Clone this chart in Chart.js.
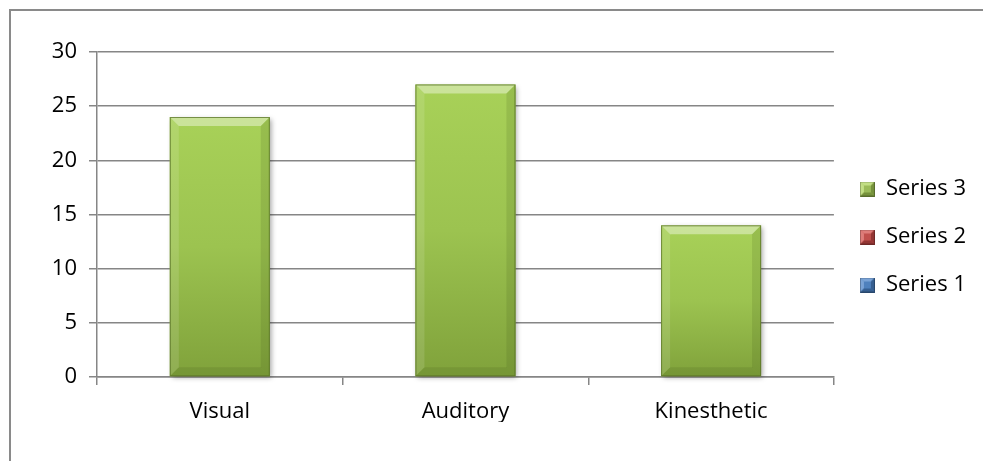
<!DOCTYPE html>
<html><head><meta charset="utf-8">
<script src="https://cdn.jsdelivr.net/npm/chart.js@4/dist/chart.umd.min.js"></script>
<style>html,body{margin:0;padding:0;background:#fff;overflow:hidden}</style>
</head><body>
<canvas id="c" width="983" height="461"></canvas>
<script>
const categories = ['Visual', 'Auditory', 'Kinesthetic'];
const series1 = [0, 0, 0];
const series2 = [0, 0, 0];
const series3 = [24, 27, 14];
const seriesNames = ['Series 1', 'Series 2', 'Series 3'];
const yMin = 0, yMax = 30, yStep = 5;

const FONT = 'Open Sans';
const GRID = '#868686';

function swatch(light, mid, dark) {
  const n = 15;
  const c = document.createElement('canvas');
  c.width = n; c.height = n;
  const x = c.getContext('2d');
  x.fillStyle = mid; x.fillRect(0, 0, n, n);
  const s = 4;
  const poly = (pts, col) => { x.beginPath(); x.moveTo(pts[0][0], pts[0][1]); pts.slice(1).forEach(p => x.lineTo(p[0], p[1])); x.closePath(); x.fillStyle = col; x.fill(); };
  poly([[0,0],[n,0],[n-s,s],[s,s]], light);
  poly([[0,0],[s,s],[s,n-s],[0,n]], light);
  poly([[0,n],[n,n],[n-s,n-s],[s,n-s]], dark);
  poly([[n,0],[n,n],[n-s,n-s],[n-s,s]], dark);
  x.strokeStyle = 'rgba(0,0,0,0.25)'; x.lineWidth = 1; x.strokeRect(0.5, 0.5, n - 1, n - 1);
  return c;
}

const borderPlugin = {
  id: 'outerBorder',
  beforeDraw(chart) {
    const ctx = chart.ctx;
    ctx.save();
    ctx.strokeStyle = '#8a8a8a';
    ctx.lineWidth = 2;
    ctx.beginPath();
    ctx.moveTo(10, 461); ctx.lineTo(10, 10); ctx.lineTo(983, 10);
    ctx.stroke();
    ctx.restore();
  }
};

const bevelPlugin = {
  id: 'bevel',
  afterDatasetsDraw(chart) {
    const ctx = chart.ctx;
    const meta = chart.getDatasetMeta(2);
    meta.data.forEach(el => {
      const p = el.getProps(['x', 'y', 'base', 'width'], true);
      const l = p.x - p.width / 2, r = p.x + p.width / 2, t = Math.min(p.y, p.base), b = Math.max(p.y, p.base);
      const s = 9;
      ctx.save();
      ctx.shadowColor = 'rgba(0,0,0,0.35)';
      ctx.shadowBlur = 5; ctx.shadowOffsetX = 2; ctx.shadowOffsetY = 2;
      const g = ctx.createLinearGradient(0, t, 0, b);
      g.addColorStop(0, '#a8d158');
      g.addColorStop(0.5, '#9cc350');
      g.addColorStop(1, '#80a23b');
      ctx.fillStyle = g;
      ctx.fillRect(l, t, r - l, b - t);
      ctx.shadowColor = 'transparent';
      const poly = (pts, col) => { ctx.beginPath(); ctx.moveTo(pts[0][0], pts[0][1]); pts.slice(1).forEach(q => ctx.lineTo(q[0], q[1])); ctx.closePath(); ctx.fillStyle = col; ctx.fill(); };
      poly([[l,t],[r,t],[r-s,t+s],[l+s,t+s]], 'rgba(255,255,255,0.40)');
      poly([[l,t],[l+s,t+s],[l+s,b-s],[l,b]], 'rgba(255,255,255,0.12)');
      poly([[r,t],[r,b],[r-s,b-s],[r-s,t+s]], 'rgba(60,80,20,0.14)');
      poly([[l,b],[r,b],[r-s,b-s],[l+s,b-s]], 'rgba(60,80,20,0.14)');
      ctx.strokeStyle = 'rgba(90,115,40,0.75)';
      ctx.lineWidth = 1;
      ctx.strokeRect(l + 0.5, t + 0.5, r - l - 1, b - t - 1);
      ctx.restore();
    });
  }
};

new Chart(document.getElementById('c'), {
  type: 'bar',
  data: {
    labels: categories,
    datasets: [
      { label: seriesNames[0], data: series1, backgroundColor: '#4f81bd', pointStyle: swatch('#7aa3d6', '#4f81bd', '#365f91') },
      { label: seriesNames[1], data: series2, backgroundColor: '#c0504d', pointStyle: swatch('#de7d7a', '#c0504d', '#943634') },
      { label: seriesNames[2], data: series3, backgroundColor: '#9bbb59', pointStyle: swatch('#c3df86', '#9bbb59', '#76923c') }
    ]
  },
  options: {
    responsive: false,
    animation: false,
    devicePixelRatio: 1,
    layout: { padding: { left: 10, top: 52, right: 7, bottom: 39 } },
    datasets: { bar: { barPercentage: 0.407, categoryPercentage: 1.0 } },
    plugins: {
      legend: {
        position: 'right',
        reverse: true,
        labels: {
          usePointStyle: true,
          boxWidth: 15, boxHeight: 15, pointStyleWidth: 15,
          padding: 26,
          color: '#000',
          font: { family: FONT, size: 22 }
        }
      },
      tooltip: { enabled: false }
    },
    scales: {
      x: {
        stacked: true,
        grid: { offset: true, drawOnChartArea: false, color: GRID, tickLength: 8, lineWidth: 1.5 },
        border: { color: GRID, width: 1.5 },
        ticks: { color: '#000', font: { family: FONT, size: 22 }, padding: 14 },
        afterFit(s) { s.height = 45; }
      },
      y: {
        stacked: true,
        min: yMin, max: yMax,
        grid: { color: GRID, tickLength: 8, lineWidth: 1.5 },
        border: { color: GRID, width: 1.5 },
        ticks: { stepSize: yStep, color: '#000', font: { family: FONT, size: 22 }, padding: 12 },
        afterFit(s) { s.width = 87; }
      }
    }
  },
  plugins: [borderPlugin, bevelPlugin]
});
</script>
</body></html>
